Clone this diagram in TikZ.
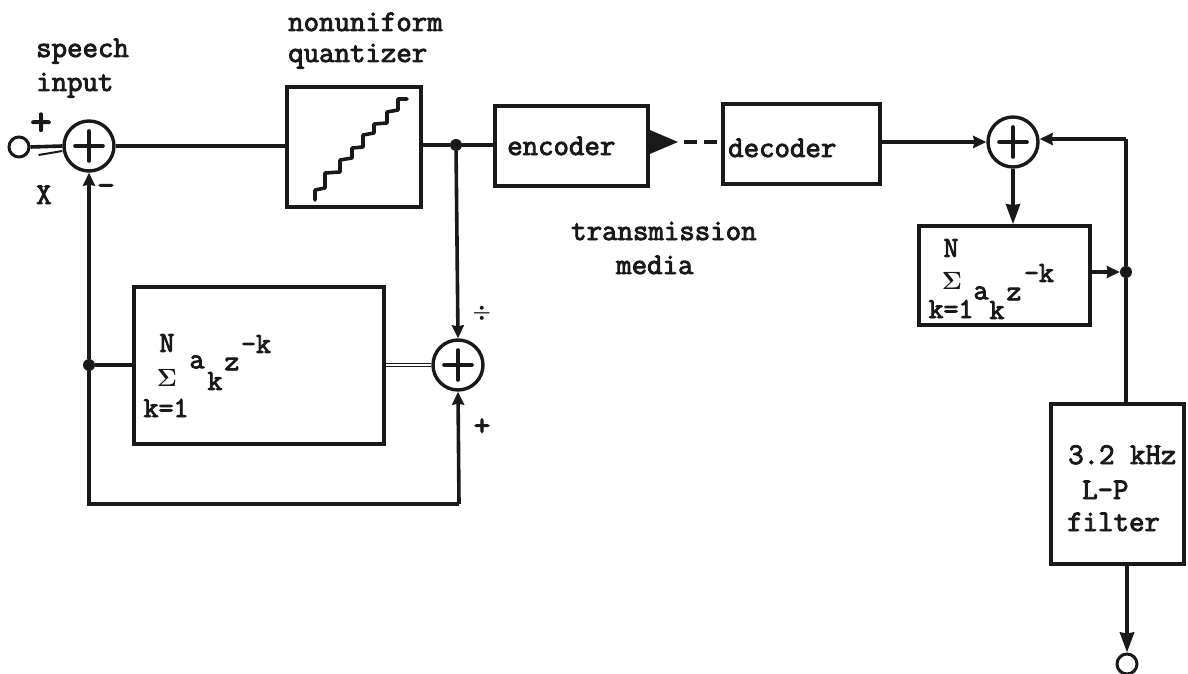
\documentclass[tikz,border=0pt]{standalone}
\usepackage{fontspec}
\newfontfamily\tw{Latin Modern Mono}[FakeBold=3]
\usetikzlibrary{arrows.meta,calc}
\tikzset{
  every picture/.style={x=1pt,y=-1pt},
  wire/.style={line width=3.6pt,draw=black!90},
  arrowed/.style={wire,-{Stealth[length=20pt,width=14pt,inset=1pt]}},
  arrowsmall/.style={wire,-{Stealth[length=13pt,width=12pt,inset=1pt]}},
  boxnode/.style={draw=black!90,line width=3.6pt,inner sep=0pt},
  sumnode/.style={circle,draw=black!90,line width=3.4pt,minimum size=50pt,inner sep=0pt,
    path picture={\draw[line width=3.6pt,line cap=round] (path picture bounding box.center)+(-14,0) -- +(14,0);
                  \draw[line width=3.6pt,line cap=round] (path picture bounding box.center)+(0,-15) -- +(0,15);}},
  portnode/.style={circle,draw=black!90,line width=3pt,minimum size=20pt,inner sep=0pt},
  dotnode/.style={circle,fill=black!90,minimum size=12pt,inner sep=0pt},
  txt/.style={font=\fontsize{30}{30}\selectfont\tw,inner sep=0pt,anchor=base west,text=black!90},
  mathtxt/.style={font=\fontsize{29}{29}\selectfont\tw,inner sep=0pt,text=black!90},
  sigmatxt/.style={font=\fontsize{32}{32}\selectfont\boldmath,inner sep=0pt,text=black!90},
  signtxt/.style={font=\fontsize{42}{42}\selectfont\tw,inner sep=0pt,text=black!90},
}
\begin{document}
\begin{tikzpicture}
\useasboundingbox (0,0) rectangle (1188,674);
% blocks
\node[boxnode,minimum width=134pt,minimum height=120pt] (quant) at (354,147) {};
\node[boxnode,minimum width=153pt,minimum height=80pt] (enc) at (571.5,146) {};
\node[boxnode,minimum width=157pt,minimum height=80pt] (dec) at (801.5,144) {};
\node[boxnode,minimum width=171pt,minimum height=99pt] (fbr) at (1004.5,275.5) {};
\node[boxnode,minimum width=250pt,minimum height=157pt] (fbl) at (259,365.5) {};
\node[boxnode,minimum width=133pt,minimum height=160pt] (lpf) at (1117.5,484) {};
% summers, ports, junctions
\node[sumnode] (s1) at (89,146) {};
\node[sumnode] (s2) at (458,365) {};
\node[sumnode] (s3) at (1013,142) {};
\node[portnode] (in) at (19,147) {};
\node[portnode] (out) at (1127,664) {};
\node[dotnode] (j1) at (456,145) {};
\node[dotnode] (j2) at (89,365) {};
\node[dotnode] (j3) at (1126,272) {};
\coordinate (tip) at (678,142);
\coordinate (bl) at (89,504);
\coordinate (br) at (459,504);
\coordinate (tr) at (1126,139);
% connectors
\draw[wire] (in.east) -- (s1.west);
\draw[wire,line width=2pt] ($(in.east)+(8,8)$) -- ($(s1.west)+(0,5)$);
\draw[wire] (s1.east) -- (s1.east -| quant.west);
\draw[wire] (quant.east |- j1) -- (j1) -- (j1 -| enc.west);
\fill[black!90] (enc.east |- 0,130) -- (tip) -- (enc.east |- 0,154) -- cycle;
\draw[wire,dash pattern=on 13pt off 7pt on 13pt off 7pt] (tip) ++(6,0) -- (dec.west |- tip);
\draw[arrowsmall] (dec.east |- s3) -- (s3.west);
\draw[arrowsmall] (tr) -- (s3.east |- tr);
\draw[arrowed] (s3.south) -- (fbr.north -| s3);
\draw[arrowsmall] (fbr.east |- j3) -- (j3);
\draw[wire] (tr) -- (j3) -- (lpf.north -| j3);
\draw[arrowed] (lpf.south -| out) -- (out.north);
\draw[arrowsmall] (j1) -- (s2.north);
\draw[wire,double=white,line width=1.2pt,double distance=1.6pt] (s2.west) -- (s2.west -| fbl.east);
\draw[wire] (fbl.west |- j2) -- (j2);
\draw[arrowsmall] (j2) -- (s1.south);
\draw[wire] (j2) -- (bl) -- (br);
\draw[arrowsmall] (br) -- (s2.south);
% staircase inside quantizer
\draw[wire,line join=round,line cap=round]
  (315,200) -- (315,190) -- (325,188) -- (325,173) -- (340,172) -- (340,160) -- (352,158) -- (352,148)
  -- (363,147) -- (363,135) -- (374,133) -- (374,124) -- (387,123) -- (387,112) -- (398,110) -- (398,99) -- (407,99);
% labels
\node[txt] (l1) at (36,57) {speech};
\node[txt] (l2) at (36,91) {input};
\node[txt] (l3) at (288,31) {nonuniform};
\node[txt] (l4) at (288,62) {quantizer};
\node[signtxt] (l5) at (41,124) {+};
\node[signtxt,font=\fontsize{34}{34}\selectfont\tw] (l6) at (106,190) {-};
\node[txt] (l7) at (36,204) {X};
\node[txt] (l8) at (507,155) {encoder};
\node[txt] (l9) at (728,157) {decoder};
\node[txt] (l10) at (571,240) {transmission};
\node[txt] (l11) at (616,274) {media};
\node[signtxt,font=\fontsize{22}{22}\selectfont\boldmath] (l12) at (482,313) {$\div$};
\node[signtxt,font=\fontsize{32}{32}\selectfont\tw] (l13) at (482,427) {+};
% left feedback formula
\node[mathtxt] (a1) at (167,343) {N};
\node[sigmatxt] (a2) at (167,378) {$\Sigma$};
\node[mathtxt] (a3) at (197,362) {a};
\node[mathtxt] (a4) at (215,381) {k};
\node[mathtxt] (a5) at (232,364) {z};
\node[mathtxt] (a6) at (256,344) {-k};
\node[mathtxt] (a7) at (166,408) {k=1};
% right feedback formula
\node[mathtxt] (b1) at (951,248) {N};
\node[sigmatxt] (b2) at (952,281) {$\Sigma$};
\node[mathtxt] (b3) at (981,293) {a};
\node[mathtxt] (b4) at (997,310) {k};
\node[mathtxt] (b5) at (1014,294) {z};
\node[mathtxt] (b6) at (1039,273) {-k};
\node[mathtxt] (b7) at (951,309) {k=1};
% filter text
\node[txt] (c1) at (1068,464) {3.2 kHz};
\node[txt] (c2) at (1082,499) {L-P};
\node[txt] (c3) at (1067,531) {filter};
\end{tikzpicture}
\end{document}
